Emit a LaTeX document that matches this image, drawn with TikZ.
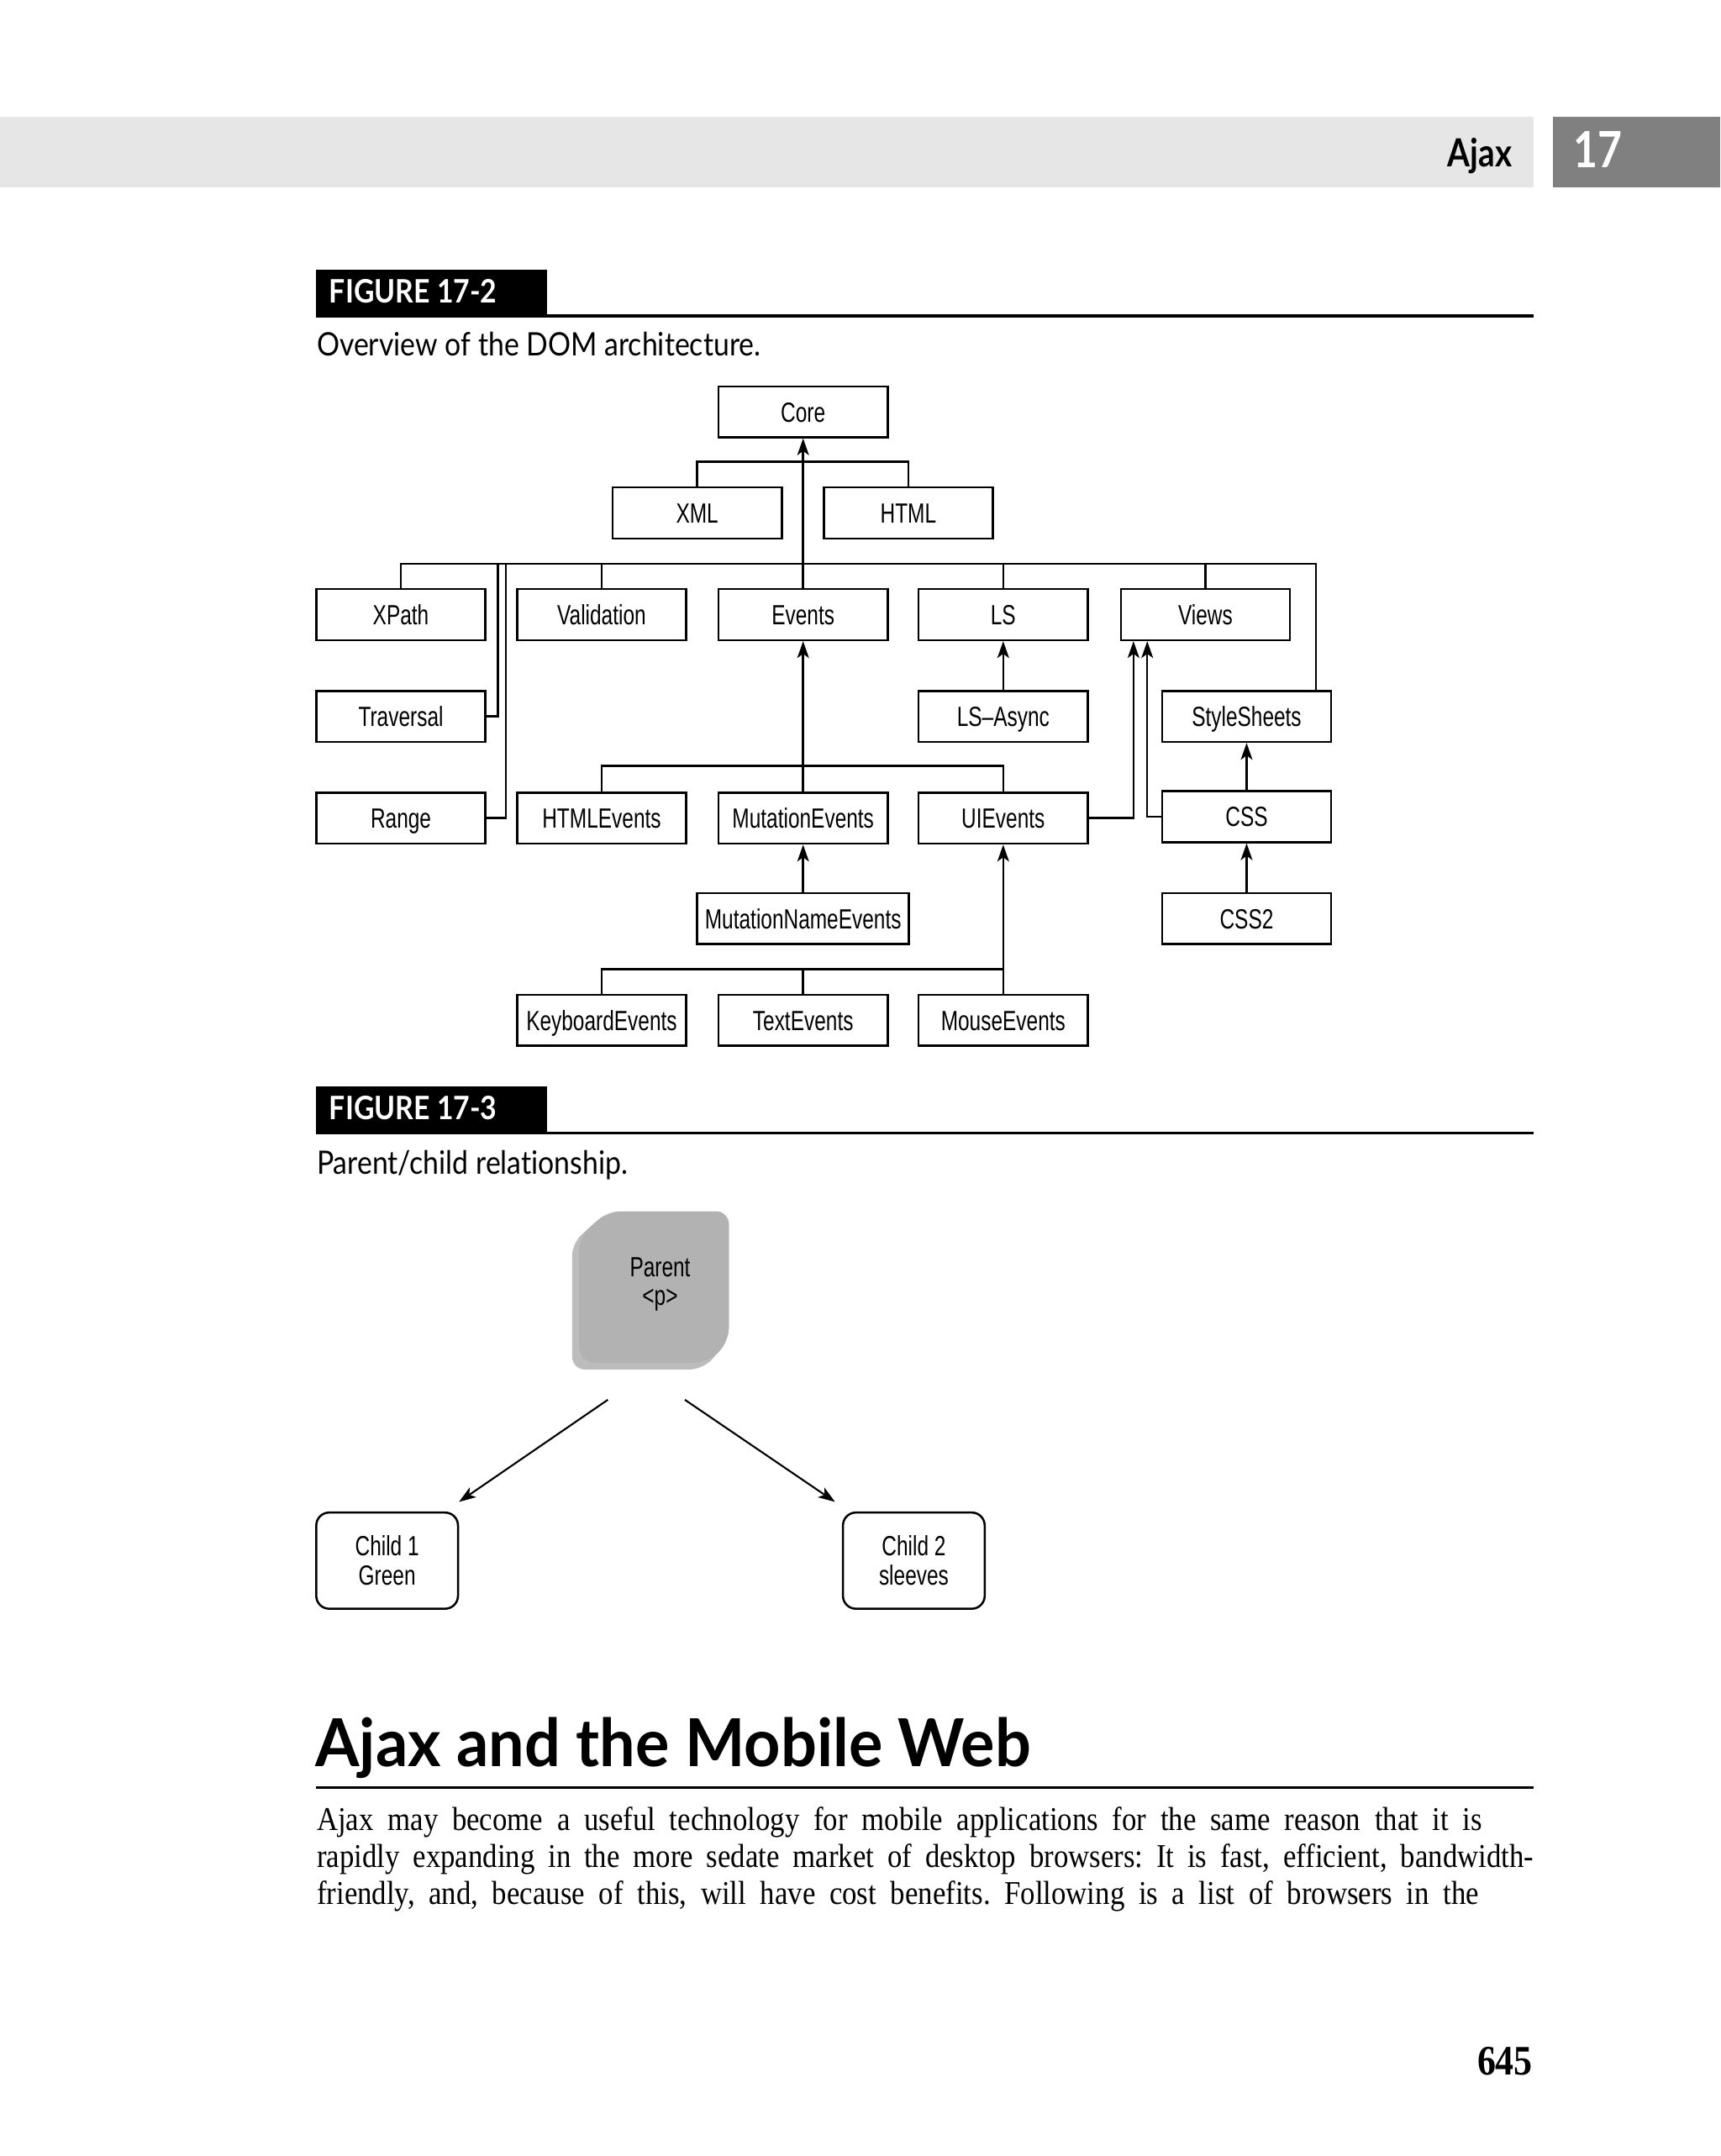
\documentclass[tikz,border=0pt]{standalone}
\usepackage{fontspec}
\setmainfont{Liberation Serif}
\newfontfamily\diagfont[FakeStretch=0.74]{Liberation Sans}
\newfontfamily\bodyfont[FakeStretch=0.88]{Liberation Serif}
\newfontfamily\humfont[FakeStretch=0.88,Ligatures=NoCommon]{Lato}
\newfontfamily\headfont[FakeStretch=0.96]{Lato}
\newfontfamily\runfont[FakeStretch=0.84]{Lato}
\usetikzlibrary{arrows.meta,calc}
\definecolor{band}{RGB}{230,230,230}
\definecolor{chap}{RGB}{128,128,128}
\definecolor{parentgray}{RGB}{178,178,178}
\definecolor{parentlight}{RGB}{188,188,188}
\begin{document}
\frenchspacing
\begin{tikzpicture}[x=0.426pt,y=-0.426pt,
  txt/.style={inner sep=0pt},
  box/.style={draw, line width=0.65pt, minimum width=52.4pt, minimum height=15.8pt, inner sep=0pt,
    text height=6.2pt, text depth=0pt,
    font=\diagfont\fontsize{8.6}{10}\selectfont},
  wbox/.style={box, minimum width=65.6pt},
  cbox/.style={draw, line width=0.65pt, rounded corners=4pt, minimum width=43.9pt, minimum height=29.8pt,
    inner sep=0pt, align=center, font=\diagfont\fontsize{8.6}{9}\selectfont},
  conn/.style={line width=0.65pt},
  arr/.style={conn, -{Stealth[length=5.2pt,width=3.6pt,inset=1.3pt]}},
  arrthin/.style={line width=0.55pt, -{Stealth[length=5.2pt,width=3.6pt,inset=1.3pt]}},
  figlabel/.style={txt, anchor=base west, text=white, font=\humfont\bfseries\fontsize{10}{12}\selectfont},
  caption/.style={txt, anchor=base west, font=\humfont\fontsize{10}{12}\selectfont},
  bodyline/.style={txt, anchor=base west, font=\bodyfont\fontsize{10.3}{12}\selectfont}]
\useasboundingbox (0,0) rectangle (1251,1568);
\fill[white] (0,0) rectangle (1251,1568);

% running head
\fill[band] (0,85) rectangle (1115,136);
\fill[chap] (1129,85) rectangle (1251,136);
\node[txt, anchor=base east, font=\runfont\bfseries\fontsize{12}{14}\selectfont] (runhead) at (1100,121) {Ajax};
\node[txt, anchor=base, text=white, font=\runfont\bfseries\fontsize{15.5}{18}\selectfont] (chapno) at (1162,122) {17};

% Figure 17-2 label
\fill[black] (230,196) rectangle (398,230);
\node[figlabel] (fig2) at (239,220) {FIGURE 17-2};
\draw[line width=1pt] (230,230) -- (1115,230);
\node[caption] (cap2) at (230,259) {Overview of the DOM architecture.};

% DOM boxes
\node[box] (core) at (584,299.5) {Core};
\node[box] (xml) at (507,373) {XML};
\node[box] (html) at (660.5,373) {HTML};
\node[box] (xpath) at (291.5,447) {XPath};
\node[box] (validation) at (437.5,447) {Validation};
\node[box] (events) at (584,447) {Events};
\node[box] (ls) at (729.5,447) {LS};
\node[box] (views) at (876.5,447) {Views};
\node[box] (traversal) at (291.5,521) {Traversal};
\node[box] (lsasync) at (729.5,521) {LS–Async};
\node[box] (stylesheets) at (906.5,521) {StyleSheets};
\node[box] (range) at (291.5,595) {Range};
\node[box] (htmlevents) at (437.5,595) {HTMLEvents};
\node[box] (mutationevents) at (584,595) {MutationEvents};
\node[box] (uievents) at (729.5,595) {UIEvents};
\node[box] (css) at (906.5,594) {CSS};
\node[wbox] (mne) at (584,668) {MutationNameEvents};
\node[box] (css2) at (906.5,668) {CSS2};
\node[box] (keyboard) at (437.5,742) {KeyboardEvents};
\node[box] (textev) at (584,742) {TextEvents};
\node[box] (mouse) at (729.5,742) {MouseEvents};

% DOM connectors
\draw[conn] (xml.north) -- ++(0,-18) -| (html.north);
\draw[arr] (events.north) -- (core.south);
\coordinate (busR) at (957,410);
\draw[conn] (xpath.north) |- (busR) -- (busR |- stylesheets.north);
\foreach \n in {validation,ls,views} \draw[conn] (\n.north) -- (\n.north |- busR);
\coordinate (tj) at (362,410);
\coordinate (rj) at (368,410);
\draw[conn] (traversal.east) -| (tj);
\draw[conn] (range.east) -| (rj);
\draw[arr] (lsasync.north) -- (ls.south);
\draw[arr] (mutationevents.north) -- (events.south);
\coordinate (eb) at (584,557);
\draw[conn] (htmlevents.north) |- (eb) -| (uievents.north);
\draw[arr] (mne.north) -- (mutationevents.south);
\draw[arr] (uievents.east) -| ($(views.south west)+(10,0)$);
\draw[arr] (css.west) -| ($(views.south west)+(20,0)$);
\draw[arr] (css.north) -- (stylesheets.south);
\draw[arr] (css2.north) -- (css.south);
\coordinate (kb) at (584,705);
\draw[conn] (keyboard.north) |- (kb) -| (mouse.north);
\draw[conn] (textev.north) -- (kb);
\draw[arr] (mouse.north) -- (uievents.south);

% Figure 17-3 label
\fill[black] (230,790) rectangle (398,824);
\node[figlabel] (fig3) at (239,814) {FIGURE 17-3};
\draw[line width=1pt] (230,824) -- (1115,824);
\node[caption] (cap3) at (230,854) {Parent/child relationship.};

% parent shape
\begin{scope}
\path[clip, rounded corners=4pt] (442,881) -- (530,881) -- (530,975) -- (511,996) -- (416,996) -- (416,904) -- cycle;
\fill[parentlight] (400,870) rectangle (540,1010);
\fill[parentgray, rounded corners=5pt] (447,876) -- (535,876) -- (535,970) -- (516,991) -- (421,991) -- (421,899) -- cycle;
\end{scope}
\node[txt, align=center, font=\diagfont\fontsize{8.6}{9}\selectfont] (parent) at (480,934) {Parent\\<p>};

\node[cbox] (child1) at (281.5,1135) {Child 1\\Green};
\node[cbox] (child2) at (664.5,1135) {Child 2\\sleeves};
\coordinate (p1) at (442,1018);
\coordinate (p2) at (498,1018);
\draw[arrthin] (p1) -- ($(child1.north east)+(0,-7)$);
\draw[arrthin] (p2) -- ($(child2.north west)+(-5,-7)$);

% section heading
\node[txt, anchor=base west, font=\headfont\bfseries\fontsize{20.5}{24}\selectfont] (heading) at (229,1285) {Ajax and the Mobile Web};
\draw[line width=1pt] (230,1300) -- (1115,1300);

% body text
\node[bodyline] (l1) at (230,1331) {\makebox[361pt][s]{Ajax may become a useful technology for mobile applications for the same reason that it is}};
\node[bodyline] (l2) at (230,1358) {\makebox[377pt][s]{rapidly expanding in the more sedate market of desktop browsers: It is fast, efficient, bandwidth-}};
\node[bodyline] (l3) at (230,1385) {\makebox[360pt][s]{friendly, and, because of this, will have cost benefits. Following is a list of browsers in the}};

\node[txt, anchor=base east, font=\bodyfont\bfseries\fontsize{13}{15}\selectfont] (pageno) at (1115,1509) {645};
\end{tikzpicture}
\end{document}
